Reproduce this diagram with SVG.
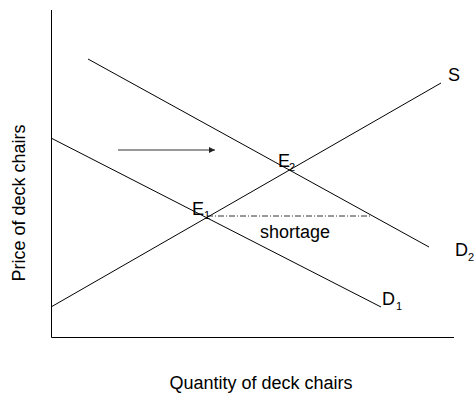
<svg xmlns="http://www.w3.org/2000/svg" width="474" height="397" viewBox="0 0 474 397">
<defs>
<style>
.ln{stroke:#000;stroke-width:1;fill:none}
.t{font-family:"Liberation Sans",Arial,sans-serif;font-size:18px;fill:#000}
.sub{font-family:"Liberation Sans",Arial,sans-serif;font-size:11px;fill:#000}
</style>
<marker id="ah" viewBox="0 0 10 10" refX="10" refY="5" markerWidth="7" markerHeight="6" markerUnits="userSpaceOnUse" orient="auto">
<path d="M0,0 L10,5 L0,10 z" fill="#222"/>
</marker>
</defs>
<rect width="474" height="397" fill="#fff"/>
<g id="axes">
<path class="ln" d="M51.5,10 V337.5 H454"/>
<text class="t" x="25" y="203" text-anchor="middle" transform="rotate(-90 25 203)">Price of deck chairs</text>
<text class="t" x="261" y="389" text-anchor="middle">Quantity of deck chairs</text>
</g>
<g id="connectors">
<line id="S" class="ln" x1="51" y1="307" x2="441" y2="83"/>
<line id="D1" class="ln" x1="51" y1="138" x2="381" y2="307"/>
<line id="D2" class="ln" x1="88" y1="59" x2="429" y2="247"/>
<line id="shift" x1="118" y1="150" x2="215" y2="150" stroke="#333" stroke-width="1.2" marker-end="url(#ah)"/>
<line id="shortage-line" x1="207" y1="216" x2="372" y2="216" stroke="#000" stroke-width="0.8" stroke-dasharray="6 2 1 2"/>
</g>
<g id="label-S"><text class="t" x="448" y="81">S</text></g>
<g id="label-D1"><text class="t" x="382" y="305">D</text><text class="sub" x="396" y="310">1</text></g>
<g id="label-D2"><text class="t" x="455" y="256">D</text><text class="sub" x="468" y="261">2</text></g>
<g id="label-E1"><text class="t" x="192" y="215">E</text><text class="sub" x="204" y="219">1</text></g>
<g id="label-E2"><text class="t" x="278" y="167">E</text><text class="sub" x="289" y="171">2</text></g>
<g id="label-shortage"><text class="t" x="260" y="238">shortage</text></g>
</svg>
